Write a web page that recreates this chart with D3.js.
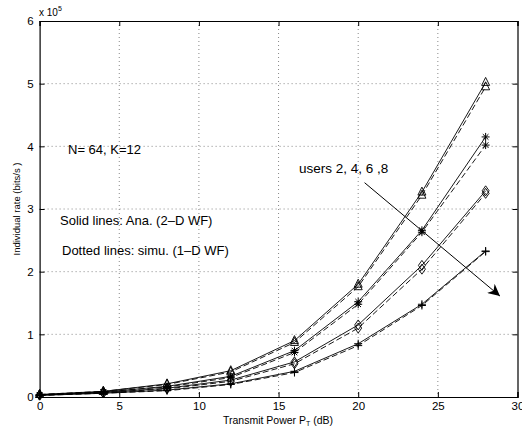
<!DOCTYPE html>
<html><head><meta charset="utf-8">
<script src="https://cdn.jsdelivr.net/npm/d3@7/dist/d3.min.js"></script>
<style>body{margin:0;background:#fff}svg{font-family:"Liberation Sans",Arial,sans-serif}</style>
</head><body><svg id="c" width="522" height="427"></svg>
<script>
const xs = [0,4,8,12,16,20,24,28];
const xTicks = [0,5,10,15,20,25,30];
const yTicks = [0,1,2,3,4,5,6];
const markers = ["triangle","asterisk","diamond","plus"];
const anaUser2 = [0.04,0.09,0.21,0.42,0.90,1.80,3.27,5.02];
const simUser2 = [0.04,0.09,0.20,0.40,0.87,1.76,3.22,4.95];
const anaUser4 = [0.035,0.08,0.17,0.33,0.74,1.52,2.66,4.15];
const simUser4 = [0.035,0.08,0.16,0.31,0.71,1.48,2.63,4.02];
const anaUser6 = [0.03,0.07,0.14,0.27,0.56,1.15,2.10,3.29];
const simUser6 = [0.03,0.065,0.13,0.25,0.53,1.10,2.04,3.25];
const anaUser8 = [0.025,0.06,0.11,0.21,0.41,0.85,1.48,2.33];
const simUser8 = [0.025,0.06,0.10,0.20,0.39,0.82,1.46,2.32];
const arrowFrom = [20.4,3.42];
const arrowTo = [28.9,1.61];

const series = [
  {v:anaUser2,m:0,dash:null},{v:simUser2,m:0,dash:"6,3"},
  {v:anaUser4,m:1,dash:null},{v:simUser4,m:1,dash:"6,3"},
  {v:anaUser6,m:2,dash:null},{v:simUser6,m:2,dash:"6,3"},
  {v:anaUser8,m:3,dash:null},{v:simUser8,m:3,dash:"6,3"}
];

const svg = d3.select("#c");
const L=39.6,R=517.5,T=21,B=397;
const x = d3.scaleLinear().domain([0,30]).range([L,R]);
const y = d3.scaleLinear().domain([0,6]).range([B,T]);

// grid
const g = svg.append("g");
g.selectAll(".gx").data(xTicks.slice(1,-1)).enter().append("line")
 .attr("x1",d=>x(d)).attr("x2",d=>x(d)).attr("y1",T).attr("y2",B)
 .attr("stroke","#888").attr("stroke-width",1).attr("stroke-dasharray","1,3");
g.selectAll(".gy").data(yTicks.slice(1,-1)).enter().append("line")
 .attr("y1",d=>y(d)).attr("y2",d=>y(d)).attr("x1",L).attr("x2",R)
 .attr("stroke","#888").attr("stroke-width",1).attr("stroke-dasharray","1,3");

// axes
const xa = svg.append("g").attr("transform",`translate(0,${B})`)
 .call(d3.axisBottom(x).tickValues(xTicks).tickSize(-5).tickPadding(5).tickFormat(d3.format("d")));
const xt = svg.append("g").attr("transform",`translate(0,${T})`)
 .call(d3.axisTop(x).tickValues(xTicks).tickSize(-5).tickFormat(""));
const ya = svg.append("g").attr("transform",`translate(${L},0)`)
 .call(d3.axisLeft(y).tickValues(yTicks).tickSize(-5).tickPadding(6).tickFormat(d3.format("d")));
const yr = svg.append("g").attr("transform",`translate(${R},0)`)
 .call(d3.axisRight(y).tickValues(yTicks).tickSize(-5).tickFormat(""));
[xa,xt,ya,yr].forEach(a=>{a.selectAll("path").attr("stroke","#000").attr("stroke-width",1.2);
 a.selectAll("line").attr("stroke","#000");
 a.selectAll("text").attr("fill","#000").attr("font-size",11.5).attr("font-family","Liberation Sans,Arial,sans-serif");});

// lines
const line = d3.line().x((d,i)=>x(xs[i])).y(d=>y(d));
series.forEach(s=>{
  svg.append("path").datum(s.v).attr("d",line).attr("fill","none")
   .attr("stroke","#000").attr("stroke-width",0.9)
   .attr("stroke-dasharray",s.dash);
});
// markers
function drawMarker(sel,type,cx,cy){
  const r=4;
  if(type==="triangle"){
    sel.append("path").attr("d",`M${cx},${cy-r-1}L${cx+r},${cy+r-1}L${cx-r},${cy+r-1}Z`).attr("fill","none").attr("stroke","#000").attr("stroke-width",0.9);
  } else if(type==="diamond"){
    sel.append("path").attr("d",`M${cx},${cy-r-1}L${cx+r-0.5},${cy}L${cx},${cy+r+1}L${cx-r+0.5},${cy}Z`).attr("fill","none").attr("stroke","#000").attr("stroke-width",0.9);
  } else if(type==="plus"){
    sel.append("path").attr("d",`M${cx-r},${cy}L${cx+r},${cy}M${cx},${cy-r}L${cx},${cy+r}`).attr("stroke","#000").attr("stroke-width",1);
  } else {
    const a=r*0.7;
    sel.append("path").attr("d",`M${cx-r},${cy}L${cx+r},${cy}M${cx},${cy-r}L${cx},${cy+r}M${cx-a},${cy-a}L${cx+a},${cy+a}M${cx-a},${cy+a}L${cx+a},${cy-a}`).attr("stroke","#000").attr("stroke-width",1);
  }
}
const mg = svg.append("g");
series.forEach(s=>{
  s.v.forEach((v,i)=>drawMarker(mg,markers[s.m],x(xs[i]),y(v)));
});

// arrow
svg.append("defs").append("marker").attr("id","ah").attr("viewBox","0 0 10 10")
 .attr("refX",10).attr("refY",5).attr("markerWidth",12).attr("markerHeight",12)
 .attr("markerUnits","userSpaceOnUse").attr("orient","auto")
 .append("path").attr("d","M0,0L10,5L0,10L3,5Z").attr("fill","#000");
svg.append("line").attr("x1",x(arrowFrom[0])).attr("y1",y(arrowFrom[1]))
 .attr("x2",x(arrowTo[0])).attr("y2",y(arrowTo[1]))
 .attr("stroke","#000").attr("stroke-width",1).attr("marker-end","url(#ah)");

// texts
const txt=(t,px,py,fs)=>svg.append("text").attr("x",px).attr("y",py).attr("font-size",fs).attr("fill","#000").text(t);
txt("N= 64, K=12",68,154,13);
txt("Solid lines: Ana. (2\u2013D WF)",60,225,13);
txt("Dotted lines: simu. (1\u2013D WF)",62,255,13);
txt("users 2, 4, 6 ,8",299,173,13.5);
const e = svg.append("text").attr("x",39).attr("y",16).attr("font-size",10).attr("fill","#000");
e.append("tspan").text("x 10");
e.append("tspan").attr("dy",-5).attr("font-size",7).text("5");
const xl = svg.append("text").attr("x",278).attr("y",424).attr("text-anchor","middle").attr("font-size",10.5).attr("fill","#000");
xl.append("tspan").text("Transmit Power P");
xl.append("tspan").attr("dy",2).attr("font-size",7).text("T");
xl.append("tspan").attr("dy",-2).text(" (dB)");
svg.append("text").attr("transform",`translate(20,${(T+B)/2}) rotate(-90)`).attr("text-anchor","middle")
 .attr("font-size",9.5).attr("fill","#000").text("Individual rate (bits/s )");
</script></body></html>
